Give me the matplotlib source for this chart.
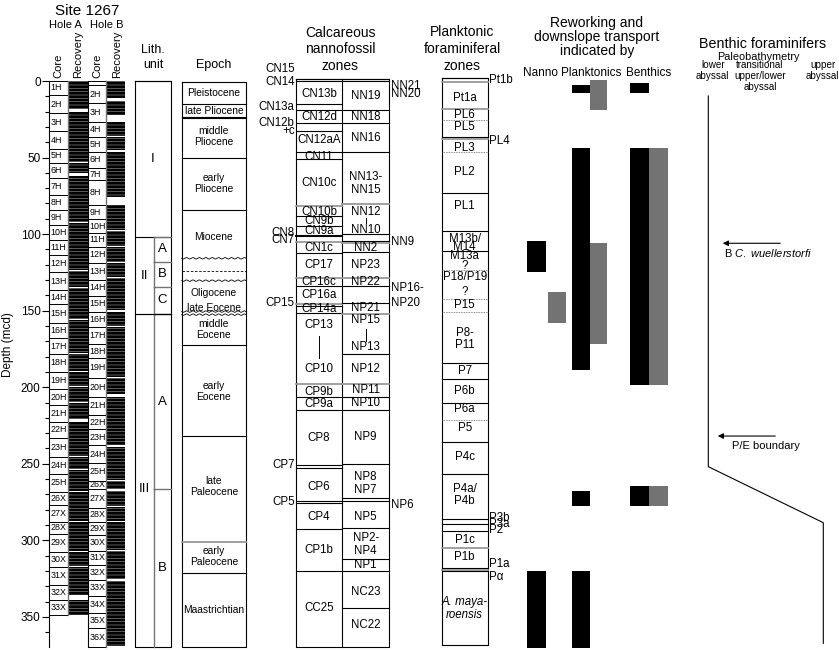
import numpy as np
import matplotlib.pyplot as plt
from matplotlib.patches import FancyArrowPatch

plt.rcParams['font.family'] = ['Liberation Sans', 'DejaVu Sans']
plt.rcParams['mathtext.fontset'] = 'custom'
plt.rcParams['mathtext.it'] = 'Liberation Sans:italic'
plt.rcParams['mathtext.rm'] = 'Liberation Sans'
plt.rcParams['hatch.linewidth'] = 0.25

# ---------------- data (depths in mcd) ----------------
hole_a_cores = ['1H', '2H', '3H', '4H', '5H', '6H', '7H', '8H', '9H', '10H', '11H',
                '12H', '13H', '14H', '15H', '16H', '17H', '18H', '19H', '20H', '21H',
                '22H', '23H', '24H', '25H', '26X', '27X', '28X', '29X', '30X', '31X',
                '32X', '33X']
hole_a_tops = [0, 9.1, 21.1, 32.7, 44.4, 53.3, 63.6, 74.5, 84.3, 94, 103.9, 113.6, 125,
               136.5, 145.9, 158.3, 168, 178.3, 189.8, 201.4, 211.6, 222.5, 233.4, 245.4,
               256.9, 268.2, 276.9, 287.8, 295.9, 307.4, 317.2, 329.2, 339]
hole_a_base = 348.8
hole_a_gaps = [(18.5, 20.2), (60.3, 62.3), (92.0, 92.8), (123.2, 124.0), (134.6, 135.3),
               (155.6, 156.4), (177.5, 178.3), (199.2, 200.0), (209.6, 210.4),
               (221.0, 221.8), (253.6, 254.4), (336.0, 339.0)]

hole_b_cores = ['', '2H', '3H', '4H', '5H', '6H', '7H', '8H', '9H', '10H', '11H', '12H',
                '13H', '14H', '15H', '16H', '17H', '18H', '19H', '20H', '21H', '22H',
                '23H', '24H', '25H', '26X', '27X', '28X', '29X', '30X', '31X', '32X',
                '33X', '34X', '35X', '36X']
hole_b_tops = [0, 2.6, 14.6, 26.6, 36.4, 46.2, 57, 64.7, 81, 90.4, 99.5, 108.2, 119.1,
               130, 140.4, 150.7, 160.5, 171.8, 181.1, 193.8, 206.2, 218.2, 227.5, 237.7,
               249.7, 261.0, 266.5, 279.1, 287.8, 296.5, 306.8, 316.1, 325.9, 336.4,
               347.7, 357.5]
hole_b_base = 369.5
hole_b_gaps = [(11.3, 13.3), (22.2, 26.6), (45.2, 46.0), (75.5, 81.0), (97.3, 98.1),
               (118.0, 118.8), (127.8, 128.6), (149.6, 150.4), (160.1, 160.9),
               (193.1, 193.9), (204.7, 205.5), (238.0, 238.8), (266.5, 268.0),
               (277.6, 278.4), (325.5, 326.3)]

lith_units = [('I', 0, 102.0), ('II', 102.0, 152.2), ('III', 152.2, 369.5)]
lith_subunits = [('A', 102.0, 118.0), ('B', 118.0, 134.3), ('C', 134.3, 152.2),
                 ('A', 152.2, 266.5), ('B', 266.5, 369.5)]

epoch_lines = [(15.0, 'k'), (23.2, 'k'), (24.2, 'k'), (50.5, 'k'), (84.3, 'k'),
               (115.8, '~'), (124.0, '--'), (130.4, '~'), (150.6, '~'), (152.6, '~'),
               (172.4, 'k'), (231.9, 'k'), (300.9, 'g'), (321.1, 'k')]
epoch_labels = [('Pleistocene', 8.0), ('late Pliocene', 19.6), ('middle\nPliocene', 36.4),
                ('early\nPliocene', 66.8), ('Miocene', 101.7), ('Oligocene', 138.7),
                ('late Eocene', 148.2), ('middle\nEocene', 162.3), ('early\nEocene', 203.0),
                ('late\nPaleocene', 265.0), ('early\nPaleocene', 310.7),
                ('Maastrichtian', 345.5)]

cn_lines = [(-1.2, 'k'), (0.0, 'k'), (15.2, 'k'), (19.0, 'k'), (27.6, 'k'), (32.4, 'k'),
            (46.2, 'k'), (51.2, 'k'), (81.4, 'g'), (88.2, 'k'), (94.7, 'k'), (101.2, 'K'),
            (105.0, 'g'), (112.1, 'k'), (128.9, 'g'), (133.9, 'k'), (145.7, 'g'),
            (147.0, 'k'), (151.3, 'k'), (197.9, 'g'), (206.6, 'k'), (214.9, 'k'),
            (250.8, 'k'), (253.0, 'k'), (274.1, 'k'), (275.6, 'k'), (292.8, 'k'),
            (319.8, 'k')]
cn_labels = [('CN13b', 8.8), ('CN12d', 23.3), ('CN12aA', 38.5), ('CN11', 49.5),
             ('CN10c', 66.8), ('CN10b', 85.5), ('CN9b', 91.4), ('CN9a', 97.8),
             ('CN1c', 109.3), ('CP17', 120.2), ('CP16c', 131.1), ('CP16a', 139.8),
             ('CP14a', 148.6), ('CP13', 159.4), ('CP10', 188.3), ('CP9b', 203.0),
             ('CP9a', 211.0), ('CP8', 233.4), ('CP6', 265.0), ('CP4', 284.5),
             ('CP1b', 306.3), ('CC25', 344.4)]
cn_side = [('CN15', -7.8), ('CN14', 0.5), ('CN13a', 16.8), ('CN12b', 27.6), ('+c', 32.6),
           ('CN8', 99.0), ('CN7', 103.8), ('CP15', 145.3), ('CP7', 250.8), ('CP5', 274.8)]
cn_bars = [(166.6, 181.1)]

nn_lines = [(-1.2, 'k'), (0.0, 'k'), (18.7, 'k'), (27.6, 'k'), (46.2, 'k'), (80.3, 'g'),
            (100.0, 'k'), (104.2, 'k'), (105.5, 'g'), (111.5, 'k'), (128.9, 'g'),
            (133.9, 'k'), (144.8, 'k'), (152.2, 'g'), (178.3, 'k'), (197.9, 'g'),
            (206.2, 'k'), (214.9, 'k'), (250.3, 'k'), (272.5, 'k'), (274.3, 'k'),
            (292.2, 'k'), (312.4, 'k'), (319.8, 'k'), (344.4, 'k')]
nn_labels = [('NN19', 9.8), ('NN18', 23.3), ('NN16', 37.4), ('NN13-\nNN15', 66.8),
             ('NN12', 85.5), ('NN10', 97.3), ('NN2', 109.3), ('NP23', 120.2),
             ('NP22', 131.1), ('NP21', 148.4), ('NP15', 156.2), ('NP13', 173.6),
             ('NP12', 188.3), ('NP11', 202.0), ('NP10', 210.4), ('NP9', 232.3),
             ('NP8', 258.9), ('NP7', 267.1), ('NP5', 284.5), ('NP2-\nNP4', 303.0),
             ('NP1', 316.0), ('NC23', 333.5), ('NC22', 355.3)]
nn_side = [('NN21', 3.0), ('NN20', 8.2), ('NN9', 105.0), ('NP16-', 135.2), ('NP20', 144.8),
           ('NP6', 276.9)]
nn_bars = [(89.5, 92.8), (162.0, 170.0)]

pf_lines = [(-1.8, 'k'), (0.4, 'g'), (18.5, 'g'), (25.5, ':'), (36.4, 'k'), (38.1, 'g'),
            (46.2, ':'), (73.4, 'k'), (98.0, 'k'), (111.0, 'k'), (123.4, ':'), (142.1, ':'),
            (150.9, ':'), (184.4, 'k'), (194.8, 'k'), (210.5, 'k'), (221.4, ':'),
            (235.6, 'k'), (256.7, 'k'), (286.1, 'k'), (289.4, 'k'), (293.7, 'k'),
            (304.8, 'g'), (318.3, 'k'), (319.3, 'g'), (319.8, 'k')]
pf_labels = [('Pt1a', 10.9), ('PL6', 22.2), ('PL5', 30.2), ('PL3', 43.6), ('PL2', 59.2),
             ('PL1', 81.5), ('M13b/', 102.9), ('M14', 108.2), ('M13a', 114.0), ('?', 121.0),
             ('P18/P19', 127.7), ('?', 137.5), ('P15', 146.3), ('P8-\nP11', 168.5),
             ('P7', 189.6), ('P6b', 202.8), ('P6a', 214.4), ('P5', 226.8), ('P4c', 245.4),
             ('P4a/\nP4b', 270.4), ('P1c', 299.8), ('P1b', 310.7)]
pf_side = [('Pt1b', -0.7), ('PL4', 39.2), ('P3b', 285.4), ('P3a', 289.4), ('P2', 293.3),
           ('P1a', 315.7), ('P\u03b1', 323.8)]

nanno_black = [(104.3, 125.0), (320.0, 370.5)]
nanno_gray = [(138.0, 157.9)]
plank_black = [(2.6, 7.6), (43.8, 188.8), (267.6, 277.6), (320.0, 370.5)]
plank_gray = [(-0.7, 18.9), (105.6, 171.8)]
benth_black = [(1.5, 8.0), (43.8, 198.6), (264.5, 277.6)]
benth_gray = [(43.8, 198.6), (264.5, 277.6)]

bathy_names = ['lower\nabyssal', 'transitional\nupper/lower\nabyssal', 'upper\nabyssal']
bathy_depth = [9.8, 251.9, 288.5, 367.3]
bathy_level = [0, 0, 2, 2]
events = [('B $\\mathit{C.\\ wuellerstorfi}$', 106.0), ('P/E boundary', 231.9)]

# ---------------- layout ----------------
PX0, PXM = 81.0, 1.531
ZS = 8.3      # zone label size
ES = 7.4      # epoch label size
HS = 10       # column header size


def px(row):
    return (row - PX0) / PXM


fig = plt.figure(figsize=(8.39, 6.5), dpi=100)
ax = fig.add_axes([0, 0, 1, 1])
ax.set_xlim(0, 839)
ax.set_ylim(px(650), px(0))
for s in ['top', 'right', 'bottom']:
    ax.spines[s].set_visible(False)
ax.spines['left'].set_position(('data', 49))
ax.spines['left'].set_bounds(0, 369.5)
ax.spines['left'].set_linewidth(0.8)
ax.set_xticks([])
ax.set_yticks(np.arange(0, 351, 50))
ax.set_yticks(np.arange(0, 370, 10), minor=True)
ax.tick_params(axis='y', which='major', length=5, width=0.8, labelsize=8.5, pad=1)
ax.tick_params(axis='y', which='minor', length=3, width=0.8)
ax.text(8, px(345), 'Depth (mcd)', rotation=90, ha='center', va='center', fontsize=8.5)

LW = 0.8
GRAY = '0.45'


def rect(x0, x1, top, bot, **kw):
    ax.bar((x0 + x1) / 2, bot - top, width=x1 - x0, bottom=top, **kw)


def outline(x0, x1, top, bot, color='k', lw=LW):
    ax.plot([x0, x1, x1, x0, x0], [top, top, bot, bot, top], color=color, lw=lw)


def hline(y, x0, x1, style):
    if style == '~':
        xs = np.linspace(x0, x1, 120)
        ax.plot(xs, y + 0.45 * np.sin(np.linspace(0, 2 * np.pi * 10, 120)), color='k', lw=0.6)
    elif style == '--':
        ax.plot([x0, x1], [y, y], color='k', lw=0.6, ls=(0, (3, 2)))
    elif style == ':':
        ax.plot([x0, x1], [y, y], color='0.4', lw=0.6, ls=(0, (1, 1)))
    elif style == 'g':
        ax.plot([x0, x1], [y, y], color='0.6', lw=1.3)
    elif style == 'K':
        ax.plot([x0, x1], [y, y], color='k', lw=1.5)
    else:
        ax.plot([x0, x1], [y, y], color='k', lw=LW)


# ---- cores ----
def hole(x0, x1, x2, names, tops, base, gaps):
    bots = tops[1:] + [base]
    for n, t, b in zip(names, tops, bots):
        rect(x0, x1, t, b, color='w', edgecolor='k', linewidth=0.7)
        ax.text(x0 + 1.5, (t + b) / 2, n, fontsize=6.4, ha='left', va='center')
        rect(x1, x2, t, b - 0.2, color='k', edgecolor='w', linewidth=0, hatch='-----')
    for g0, g1 in gaps:
        rect(x1, x2, g0, g1, color='w', linewidth=0)
    ax.plot([x1, x1], [0, base], color=GRAY, lw=1.0)


hole(49, 68, 88, hole_a_cores, hole_a_tops, hole_a_base, hole_a_gaps)
hole(88, 106, 125, hole_b_cores, hole_b_tops, hole_b_base, hole_b_gaps)
ax.plot([88, 88], [0, 369.5], color='k', lw=LW)

ax.text(87, px(11), 'Site 1267', fontsize=11, ha='center', va='center')
ax.text(65, px(25), 'Hole A', fontsize=8, ha='center', va='center')
ax.text(107, px(25), 'Hole B', fontsize=8, ha='center', va='center')
for xx, t in [(58, 'Core'), (78, 'Recovery'), (97, 'Core'), (117, 'Recovery')]:
    ax.text(xx, px(78), t, rotation=90, fontsize=8, ha='center', va='bottom')

# ---- lithologic units ----
LX0, LXM, LX1 = 135, 154, 170.7
outline(LX0, LX1, 0, 369.5)
for name, t, b in lith_units:
    hline(t, LX0, LX1, 'k')
    xc = (LX0 + LX1) / 2 if name == 'I' else (LX0 + LXM) / 2
    ax.text(xc, (t + b) / 2 if name != 'III' else 266.5, name, fontsize=9.5,
            ha='center', va='center')
for name, t, b in lith_subunits:
    ax.plot([LXM, LXM], [t, b], color=GRAY, lw=1.0)
    ax.plot([LXM, LX1], [t, t], color=GRAY, lw=1.0)
    ax.text((LXM + LX1) / 2, (t + b) / 2, name, fontsize=9.5, ha='center', va='center')
ax.plot([LX0, LX1], [152.2, 152.2], color='k', lw=LW)
ax.text(153, px(50), 'Lith.', fontsize=9, ha='center', va='center')
ax.text(153, px(65), 'unit', fontsize=9, ha='center', va='center')

# ---- epochs ----
EX0, EX1 = 181.7, 246
outline(EX0, EX1, 0.4, 369.5)
for y, st in epoch_lines:
    hline(y, EX0, EX1, st)
for t, y in epoch_labels:
    ax.text((EX0 + EX1) / 2, y, t, fontsize=ES, ha='center', va='center', linespacing=1.15)
ax.text(214, px(65), 'Epoch', fontsize=9, ha='center', va='center')

# ---- nannofossil zones ----
CX0, CX1, CX2 = 295.7, 342.3, 389
outline(CX0, CX2, -1.2, 369.5)
ax.plot([CX1, CX1], [-1.2, 369.5], color='k', lw=LW)
for y, st in cn_lines:
    hline(y, CX0, CX1, st)
for y, st in nn_lines:
    hline(y, CX1, CX2, st)
for t, y in cn_labels:
    ax.text((CX0 + CX1) / 2, y, t, fontsize=ZS, ha='center', va='center')
for t, y in nn_labels:
    ax.text((CX1 + CX2) / 2, y, t, fontsize=ZS, ha='center', va='center', linespacing=1.1)
for t, y in cn_side:
    ax.text(CX0 - 1, y, t, fontsize=ZS, ha='right', va='center')
for t, y in nn_side:
    ax.text(CX2 + 2, y, t, fontsize=ZS, ha='left', va='center')
for b0, b1 in cn_bars:
    ax.plot([(CX0 + CX1) / 2] * 2, [b0, b1], color='k', lw=0.7)
for b0, b1 in nn_bars:
    ax.plot([(CX1 + CX2) / 2] * 2, [b0, b1], color='k', lw=0.7)
for i, t in enumerate(['Calcareous', 'nannofossil', 'zones']):
    ax.text(340, px(33 + 16.3 * i), t, fontsize=HS, ha='center', va='center')

# ---- planktonic foraminiferal zones ----
FX0, FX1 = 441.7, 487.7
outline(FX0, FX1, -1.8, 368.4)
for y, st in pf_lines:
    hline(y, FX0, FX1, st)
for t, y in pf_labels:
    ax.text((FX0 + FX1) / 2, y, t, fontsize=ZS, ha='center', va='center', linespacing=1.1)
ax.text((FX0 + FX1) / 2, 344.4, 'A. maya-\nroensis', fontsize=ZS, ha='center',
        va='center', style='italic', linespacing=1.1)
for t, y in pf_side:
    ax.text(FX1 + 1.5, y, t, fontsize=ZS, ha='left', va='center')
for i, t in enumerate(['Planktonic', 'foraminiferal', 'zones']):
    ax.text(462, px(32.5 + 16.5 * i), t, fontsize=HS, ha='center', va='center')

# ---- reworking ----
cols = [(527.3, 546, nanno_black, 'k'), (548.3, 565.7, nanno_gray, '0.45'),
        (571.7, 590.3, plank_black, 'k'), (590.3, 607.3, plank_gray, '0.45'),
        (630, 649.3, benth_black, 'k'), (649.3, 668.3, benth_gray, '0.45')]
for x0, x1, ivals, c in cols:
    for t, b in ivals:
        rect(x0, x1, t, b, color=c, linewidth=0)
for i, t in enumerate(['Reworking and', 'downslope transport', 'indicated by']):
    ax.text(597, px(23.5 + 14 * i), t, fontsize=HS, ha='center', va='center')
for xx, t in [(541, 'Nanno'), (591, 'Planktonics'), (648.3, 'Benthics')]:
    ax.text(xx, px(72.7), t, fontsize=8.5, ha='center', va='center')

# ---- benthic foraminifers ----
bathy_x = [708.3, 765.8, 823.3]
ax.plot([bathy_x[k] for k in bathy_level], bathy_depth, color='k', lw=0.8)
ax.text(763, px(43.5), 'Benthic foraminifers', fontsize=10.3, ha='center', va='center')
ax.text(758, px(56.5), 'Paleobathymetry', fontsize=7.8, ha='center', va='center')
for xx, t in zip([712.7, 760, 822.7], bathy_names):
    ax.text(xx, px(60.5), t, fontsize=7.1, ha='center', va='top', linespacing=1.1)
for (t, y), xa in zip(events, [(783, 720), (778, 715)]):
    ax.add_patch(FancyArrowPatch((xa[0], y), (xa[1], y), arrowstyle='-|>', mutation_scale=8,
                                 color='k', lw=0.8))
    ax.text(766 if 'P/E' in t else 724, y + 6.5, t, fontsize=8,
            ha='center' if 'P/E' in t else 'left', va='center')

fig.savefig('out.png', dpi=100)
